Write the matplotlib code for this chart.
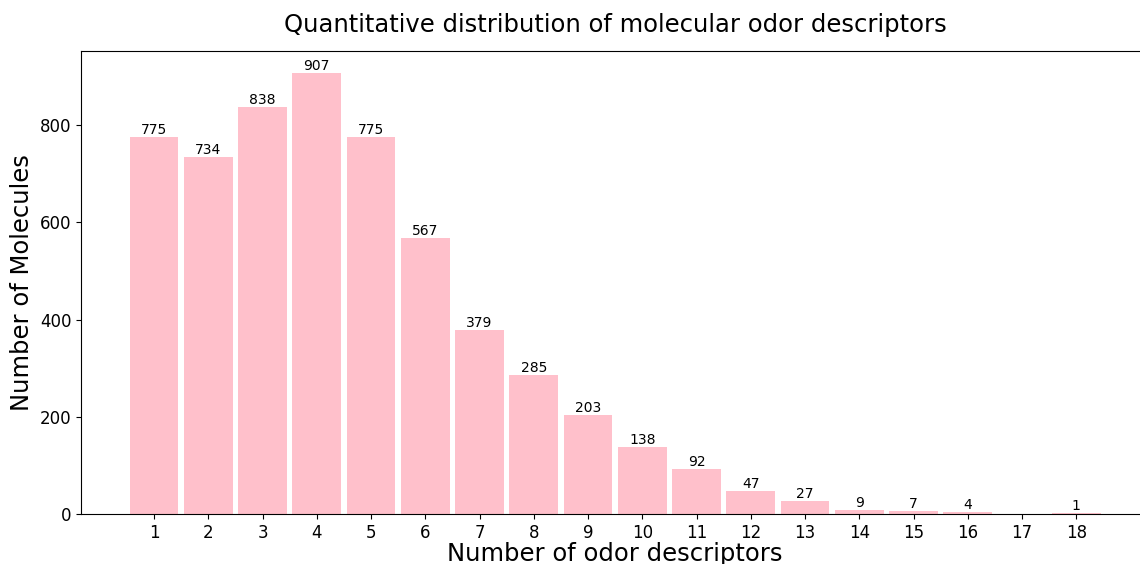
import matplotlib
matplotlib.use('Agg')
import matplotlib.pyplot as plt

# number of odor descriptors per molecule -> count (17 has no molecules)
n_descriptors = [1, 2, 3, 4, 5, 6, 7, 8, 9, 10, 11, 12, 13, 14, 15, 16, 18]
n_molecules = [775, 734, 838, 907, 775, 567, 379, 285, 203, 138, 92, 47, 27, 9, 7, 4, 1]
tick_positions = list(range(1, 19))

fig = plt.figure(figsize=(11.4, 5.64), dpi=100)
# axes run a little past the right edge, like the cropped original
ax = fig.add_axes([0.0711, 0.0887, 0.9370, 0.8209])

bars = ax.bar(n_descriptors, n_molecules, width=0.9, color='pink')
for b, v in zip(bars, n_molecules):
    ax.text(b.get_x() + b.get_width() / 2, b.get_height(), str(v),
            ha='center', va='bottom', fontsize=10)

ax.set_xticks(tick_positions)
ax.tick_params(axis='both', labelsize=12)
ax.set_xlabel('Number of odor descriptors', fontsize=17.5, labelpad=0)
ax.set_ylabel('Number of Molecules', fontsize=17.5)
ax.set_title('Quantitative distribution of molecular odor descriptors', fontsize=17.5, pad=14)

plt.savefig('out.png', dpi=100)
